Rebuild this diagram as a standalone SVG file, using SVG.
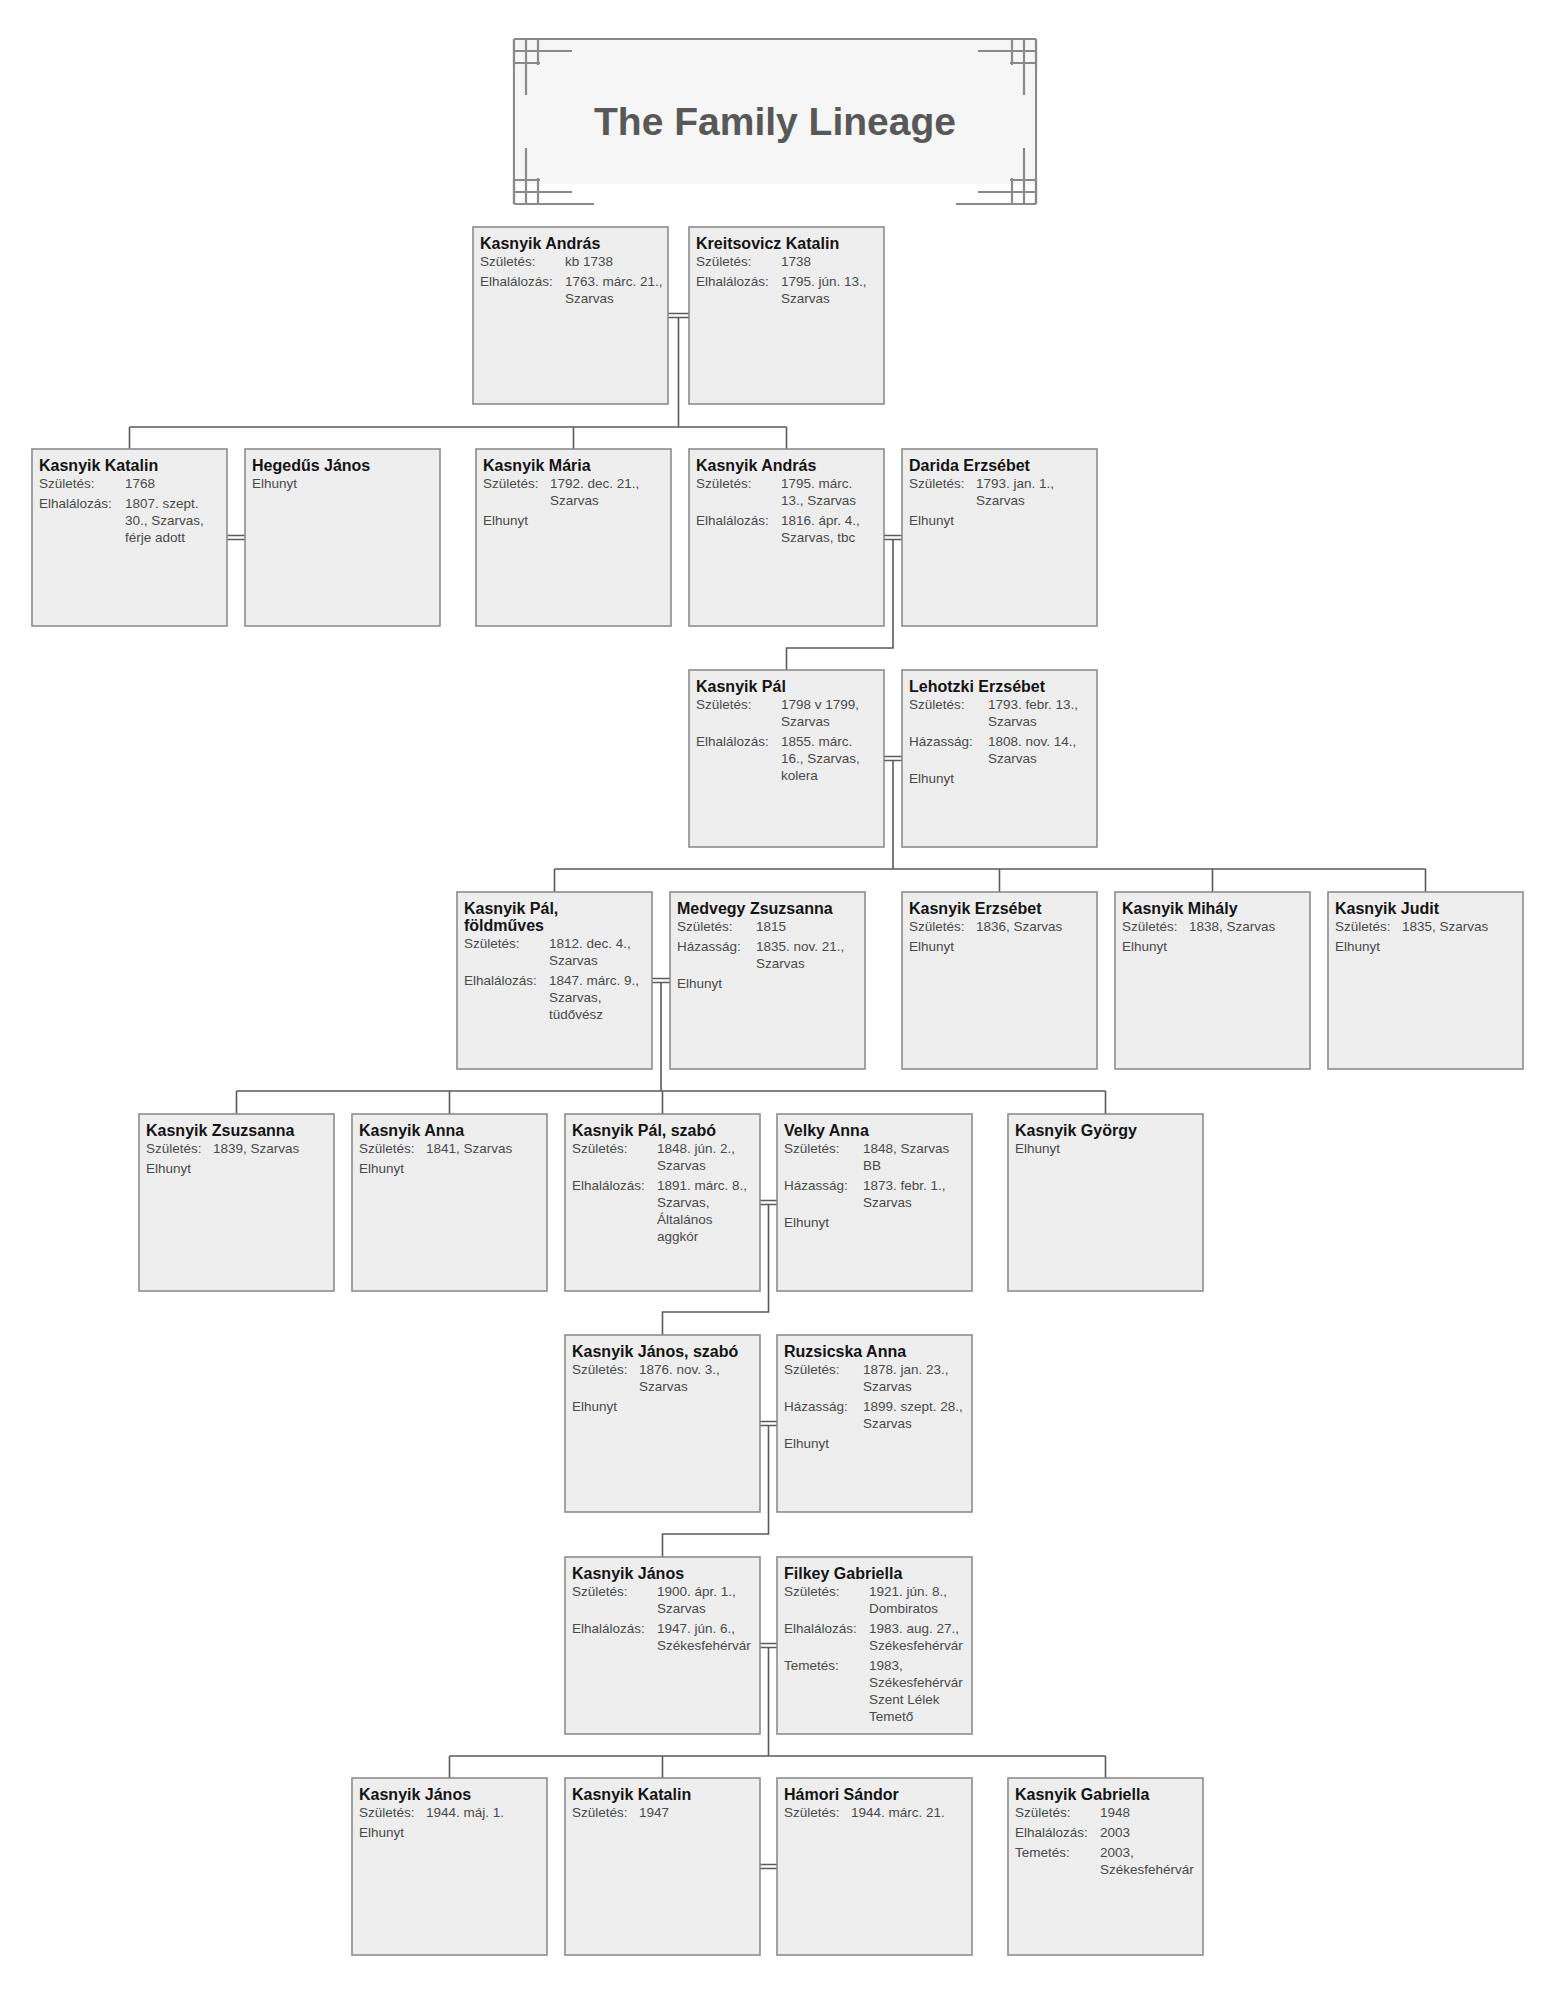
<svg xmlns="http://www.w3.org/2000/svg" width="1551" height="1998" viewBox="0 0 1551 1998">
  <defs>
    <style>
      .box { fill: #eeeeee; stroke: #8c8c8c; stroke-width: 1.6; }
      .nm { font-family: "Liberation Sans", Arial, sans-serif; font-weight: bold; font-size: 16px; fill: #141414; }
      .d { font-family: "Liberation Sans", Arial, sans-serif; font-size: 13.5px; fill: #4a4a4a; }
      .ln { fill: none; stroke: #5a5a5a; stroke-width: 1.6; }
      .fr { fill: none; stroke: #8a8a8a; stroke-width: 2.2; }
      .title { font-family: "Liberation Sans", Arial, sans-serif; font-weight: bold; font-size: 39px; fill: #585858; }
    </style>
    <!-- corner fret ornament, drawn for the top-left corner and mirrored -->
    <g id="fret">
      <path class="fr" d="M0 12 H58 M0 24 H26 M12 0 V56 M24 0 V26 M0 0 H26 V0 M0 0 V26"/>
    </g>
  </defs>

  <rect width="1551" height="1998" fill="#ffffff"/>

  <!-- title banner -->
  <g id="title">
    <rect x="516" y="40" width="518" height="144" fill="#f6f6f6"/>
    <path class="fr" d="M514 39 H1036 M514 39 V204 M1036 39 V204 M514 204 H594 M956 204 H1036"/>
    <use href="#fret" transform="translate(514,39)"/>
    <use href="#fret" transform="translate(1036,39) scale(-1,1)"/>
    <use href="#fret" transform="translate(514,204) scale(1,-1)"/>
    <use href="#fret" transform="translate(1036,204) scale(-1,-1)"/>
    <text class="title" x="775" y="135" text-anchor="middle">The Family Lineage</text>
  </g>

  <!-- connectors: couples (double lines) and parent-to-children lines -->
  <g id="connectors">
    <!-- couples -->
    <path class="ln" d="M668 313.5 H689 M668 317.5 H689"/>
    <path class="ln" d="M227 535.5 H245 M227 539.5 H245"/>
    <path class="ln" d="M884 535.5 H902 M884 539.5 H902"/>
    <path class="ln" d="M884 756.5 H902 M884 760.5 H902"/>
    <path class="ln" d="M652 978.5 H670 M652 982.5 H670"/>
    <path class="ln" d="M760 1200.5 H777 M760 1204.5 H777"/>
    <path class="ln" d="M760 1421.5 H777 M760 1425.5 H777"/>
    <path class="ln" d="M760 1643.5 H777 M760 1647.5 H777"/>
    <path class="ln" d="M760 1864.5 H777 M760 1868.5 H777"/>
    <!-- generation 1 to 2 -->
    <path class="ln" d="M678.5 317.5 V427 M129.5 427 H786.5 M129.5 427 V449 M573.5 427 V449 M786.5 427 V449"/>
    <!-- generation 2 to 3 -->
    <path class="ln" d="M893 539.5 V648 H786.5 V670"/>
    <!-- generation 3 to 4 -->
    <path class="ln" d="M893 760.5 V869 M554.5 869 H1425.5 M554.5 869 V892 M999.5 869 V892 M1212.5 869 V892 M1425.5 869 V892"/>
    <!-- generation 4 to 5 -->
    <path class="ln" d="M661 982.5 V1091 M236.5 1091 H1105.5 M236.5 1091 V1114 M449.5 1091 V1114 M662.5 1091 V1114 M1105.5 1091 V1114"/>
    <!-- generation 5 to 6 -->
    <path class="ln" d="M768.5 1204.5 V1312 H662.5 V1335"/>
    <!-- generation 6 to 7 -->
    <path class="ln" d="M768.5 1425.5 V1534 H662.5 V1557"/>
    <!-- generation 7 to 8 -->
    <path class="ln" d="M768.5 1647.5 V1756 M449.5 1756 H1105.5 M449.5 1756 V1778 M662.5 1756 V1778 M1105.5 1756 V1778"/>
  </g>

  <!-- generation 1 -->
  <g id="kasnyik-andras-1738" transform="translate(473,227)">
    <rect class="box" width="195" height="177"/>
    <text class="nm" x="7" y="22">Kasnyik András</text>
    <text class="d" x="7" y="39">Születés:</text><text class="d" x="92" y="39">kb 1738</text>
    <text class="d" x="7" y="59">Elhalálozás:</text><text class="d" x="92" y="59">1763. márc. 21.,</text>
    <text class="d" x="92" y="76">Szarvas</text>
  </g>
  <g id="kreitsovicz-katalin" transform="translate(689,227)">
    <rect class="box" width="195" height="177"/>
    <text class="nm" x="7" y="22">Kreitsovicz Katalin</text>
    <text class="d" x="7" y="39">Születés:</text><text class="d" x="92" y="39">1738</text>
    <text class="d" x="7" y="59">Elhalálozás:</text><text class="d" x="92" y="59">1795. jún. 13.,</text>
    <text class="d" x="92" y="76">Szarvas</text>
  </g>

  <!-- generation 2 -->
  <g id="kasnyik-katalin-1768" transform="translate(32,449)">
    <rect class="box" width="195" height="177"/>
    <text class="nm" x="7" y="22">Kasnyik Katalin</text>
    <text class="d" x="7" y="39">Születés:</text><text class="d" x="93" y="39">1768</text>
    <text class="d" x="7" y="59">Elhalálozás:</text><text class="d" x="93" y="59">1807. szept.</text>
    <text class="d" x="93" y="76">30., Szarvas,</text>
    <text class="d" x="93" y="93">férje adott</text>
  </g>
  <g id="hegedus-janos" transform="translate(245,449)">
    <rect class="box" width="195" height="177"/>
    <text class="nm" x="7" y="22">Hegedűs János</text>
    <text class="d" x="7" y="39">Elhunyt</text>
  </g>
  <g id="kasnyik-maria" transform="translate(476,449)">
    <rect class="box" width="195" height="177"/>
    <text class="nm" x="7" y="22">Kasnyik Mária</text>
    <text class="d" x="7" y="39">Születés:</text><text class="d" x="74" y="39">1792. dec. 21.,</text>
    <text class="d" x="74" y="56">Szarvas</text>
    <text class="d" x="7" y="76">Elhunyt</text>
  </g>
  <g id="kasnyik-andras-1795" transform="translate(689,449)">
    <rect class="box" width="195" height="177"/>
    <text class="nm" x="7" y="22">Kasnyik András</text>
    <text class="d" x="7" y="39">Születés:</text><text class="d" x="92" y="39">1795. márc.</text>
    <text class="d" x="92" y="56">13., Szarvas</text>
    <text class="d" x="7" y="76">Elhalálozás:</text><text class="d" x="92" y="76">1816. ápr. 4.,</text>
    <text class="d" x="92" y="93">Szarvas, tbc</text>
  </g>
  <g id="darida-erzsebet" transform="translate(902,449)">
    <rect class="box" width="195" height="177"/>
    <text class="nm" x="7" y="22">Darida Erzsébet</text>
    <text class="d" x="7" y="39">Születés:</text><text class="d" x="74" y="39">1793. jan. 1.,</text>
    <text class="d" x="74" y="56">Szarvas</text>
    <text class="d" x="7" y="76">Elhunyt</text>
  </g>

  <!-- generation 3 -->
  <g id="kasnyik-pal-1798" transform="translate(689,670)">
    <rect class="box" width="195" height="177"/>
    <text class="nm" x="7" y="22">Kasnyik Pál</text>
    <text class="d" x="7" y="39">Születés:</text><text class="d" x="92" y="39">1798 v 1799,</text>
    <text class="d" x="92" y="56">Szarvas</text>
    <text class="d" x="7" y="76">Elhalálozás:</text><text class="d" x="92" y="76">1855. márc.</text>
    <text class="d" x="92" y="93">16., Szarvas,</text>
    <text class="d" x="92" y="110">kolera</text>
  </g>
  <g id="lehotzki-erzsebet" transform="translate(902,670)">
    <rect class="box" width="195" height="177"/>
    <text class="nm" x="7" y="22">Lehotzki Erzsébet</text>
    <text class="d" x="7" y="39">Születés:</text><text class="d" x="86" y="39">1793. febr. 13.,</text>
    <text class="d" x="86" y="56">Szarvas</text>
    <text class="d" x="7" y="76">Házasság:</text><text class="d" x="86" y="76">1808. nov. 14.,</text>
    <text class="d" x="86" y="93">Szarvas</text>
    <text class="d" x="7" y="113">Elhunyt</text>
  </g>

  <!-- generation 4 -->
  <g id="kasnyik-pal-1812" transform="translate(457,892)">
    <rect class="box" width="195" height="177"/>
    <text class="nm" x="7" y="22">Kasnyik Pál,</text>
    <text class="nm" x="7" y="39">földműves</text>
    <text class="d" x="7" y="56">Születés:</text><text class="d" x="92" y="56">1812. dec. 4.,</text>
    <text class="d" x="92" y="73">Szarvas</text>
    <text class="d" x="7" y="93">Elhalálozás:</text><text class="d" x="92" y="93">1847. márc. 9.,</text>
    <text class="d" x="92" y="110">Szarvas,</text>
    <text class="d" x="92" y="127">tüdővész</text>
  </g>
  <g id="medvegy-zsuzsanna" transform="translate(670,892)">
    <rect class="box" width="195" height="177"/>
    <text class="nm" x="7" y="22">Medvegy Zsuzsanna</text>
    <text class="d" x="7" y="39">Születés:</text><text class="d" x="86" y="39">1815</text>
    <text class="d" x="7" y="59">Házasság:</text><text class="d" x="86" y="59">1835. nov. 21.,</text>
    <text class="d" x="86" y="76">Szarvas</text>
    <text class="d" x="7" y="96">Elhunyt</text>
  </g>
  <g id="kasnyik-erzsebet" transform="translate(902,892)">
    <rect class="box" width="195" height="177"/>
    <text class="nm" x="7" y="22">Kasnyik Erzsébet</text>
    <text class="d" x="7" y="39">Születés:</text><text class="d" x="74" y="39">1836, Szarvas</text>
    <text class="d" x="7" y="59">Elhunyt</text>
  </g>
  <g id="kasnyik-mihaly" transform="translate(1115,892)">
    <rect class="box" width="195" height="177"/>
    <text class="nm" x="7" y="22">Kasnyik Mihály</text>
    <text class="d" x="7" y="39">Születés:</text><text class="d" x="74" y="39">1838, Szarvas</text>
    <text class="d" x="7" y="59">Elhunyt</text>
  </g>
  <g id="kasnyik-judit" transform="translate(1328,892)">
    <rect class="box" width="195" height="177"/>
    <text class="nm" x="7" y="22">Kasnyik Judit</text>
    <text class="d" x="7" y="39">Születés:</text><text class="d" x="74" y="39">1835, Szarvas</text>
    <text class="d" x="7" y="59">Elhunyt</text>
  </g>

  <!-- generation 5 -->
  <g id="kasnyik-zsuzsanna" transform="translate(139,1114)">
    <rect class="box" width="195" height="177"/>
    <text class="nm" x="7" y="22">Kasnyik Zsuzsanna</text>
    <text class="d" x="7" y="39">Születés:</text><text class="d" x="74" y="39">1839, Szarvas</text>
    <text class="d" x="7" y="59">Elhunyt</text>
  </g>
  <g id="kasnyik-anna" transform="translate(352,1114)">
    <rect class="box" width="195" height="177"/>
    <text class="nm" x="7" y="22">Kasnyik Anna</text>
    <text class="d" x="7" y="39">Születés:</text><text class="d" x="74" y="39">1841, Szarvas</text>
    <text class="d" x="7" y="59">Elhunyt</text>
  </g>
  <g id="kasnyik-pal-szabo" transform="translate(565,1114)">
    <rect class="box" width="195" height="177"/>
    <text class="nm" x="7" y="22">Kasnyik Pál, szabó</text>
    <text class="d" x="7" y="39">Születés:</text><text class="d" x="92" y="39">1848. jún. 2.,</text>
    <text class="d" x="92" y="56">Szarvas</text>
    <text class="d" x="7" y="76">Elhalálozás:</text><text class="d" x="92" y="76">1891. márc. 8.,</text>
    <text class="d" x="92" y="93">Szarvas,</text>
    <text class="d" x="92" y="110">Általános</text>
    <text class="d" x="92" y="127">aggkór</text>
  </g>
  <g id="velky-anna" transform="translate(777,1114)">
    <rect class="box" width="195" height="177"/>
    <text class="nm" x="7" y="22">Velky Anna</text>
    <text class="d" x="7" y="39">Születés:</text><text class="d" x="86" y="39">1848, Szarvas</text>
    <text class="d" x="86" y="56">BB</text>
    <text class="d" x="7" y="76">Házasság:</text><text class="d" x="86" y="76">1873. febr. 1.,</text>
    <text class="d" x="86" y="93">Szarvas</text>
    <text class="d" x="7" y="113">Elhunyt</text>
  </g>
  <g id="kasnyik-gyorgy" transform="translate(1008,1114)">
    <rect class="box" width="195" height="177"/>
    <text class="nm" x="7" y="22">Kasnyik György</text>
    <text class="d" x="7" y="39">Elhunyt</text>
  </g>

  <!-- generation 6 -->
  <g id="kasnyik-janos-szabo" transform="translate(565,1335)">
    <rect class="box" width="195" height="177"/>
    <text class="nm" x="7" y="22">Kasnyik János, szabó</text>
    <text class="d" x="7" y="39">Születés:</text><text class="d" x="74" y="39">1876. nov. 3.,</text>
    <text class="d" x="74" y="56">Szarvas</text>
    <text class="d" x="7" y="76">Elhunyt</text>
  </g>
  <g id="ruzsicska-anna" transform="translate(777,1335)">
    <rect class="box" width="195" height="177"/>
    <text class="nm" x="7" y="22">Ruzsicska Anna</text>
    <text class="d" x="7" y="39">Születés:</text><text class="d" x="86" y="39">1878. jan. 23.,</text>
    <text class="d" x="86" y="56">Szarvas</text>
    <text class="d" x="7" y="76">Házasság:</text><text class="d" x="86" y="76">1899. szept. 28.,</text>
    <text class="d" x="86" y="93">Szarvas</text>
    <text class="d" x="7" y="113">Elhunyt</text>
  </g>

  <!-- generation 7 -->
  <g id="kasnyik-janos-1900" transform="translate(565,1557)">
    <rect class="box" width="195" height="177"/>
    <text class="nm" x="7" y="22">Kasnyik János</text>
    <text class="d" x="7" y="39">Születés:</text><text class="d" x="92" y="39">1900. ápr. 1.,</text>
    <text class="d" x="92" y="56">Szarvas</text>
    <text class="d" x="7" y="76">Elhalálozás:</text><text class="d" x="92" y="76">1947. jún. 6.,</text>
    <text class="d" x="92" y="93">Székesfehérvár</text>
  </g>
  <g id="filkey-gabriella" transform="translate(777,1557)">
    <rect class="box" width="195" height="177"/>
    <text class="nm" x="7" y="22">Filkey Gabriella</text>
    <text class="d" x="7" y="39">Születés:</text><text class="d" x="92" y="39">1921. jún. 8.,</text>
    <text class="d" x="92" y="56">Dombiratos</text>
    <text class="d" x="7" y="76">Elhalálozás:</text><text class="d" x="92" y="76">1983. aug. 27.,</text>
    <text class="d" x="92" y="93">Székesfehérvár</text>
    <text class="d" x="7" y="113">Temetés:</text><text class="d" x="92" y="113">1983,</text>
    <text class="d" x="92" y="130">Székesfehérvár</text>
    <text class="d" x="92" y="147">Szent Lélek</text>
    <text class="d" x="92" y="164">Temető</text>
  </g>

  <!-- generation 8 -->
  <g id="kasnyik-janos-1944" transform="translate(352,1778)">
    <rect class="box" width="195" height="177"/>
    <text class="nm" x="7" y="22">Kasnyik János</text>
    <text class="d" x="7" y="39">Születés:</text><text class="d" x="74" y="39">1944. máj. 1.</text>
    <text class="d" x="7" y="59">Elhunyt</text>
  </g>
  <g id="kasnyik-katalin-1947" transform="translate(565,1778)">
    <rect class="box" width="195" height="177"/>
    <text class="nm" x="7" y="22">Kasnyik Katalin</text>
    <text class="d" x="7" y="39">Születés:</text><text class="d" x="74" y="39">1947</text>
  </g>
  <g id="hamori-sandor" transform="translate(777,1778)">
    <rect class="box" width="195" height="177"/>
    <text class="nm" x="7" y="22">Hámori Sándor</text>
    <text class="d" x="7" y="39">Születés:</text><text class="d" x="74" y="39">1944. márc. 21.</text>
  </g>
  <g id="kasnyik-gabriella" transform="translate(1008,1778)">
    <rect class="box" width="195" height="177"/>
    <text class="nm" x="7" y="22">Kasnyik Gabriella</text>
    <text class="d" x="7" y="39">Születés:</text><text class="d" x="92" y="39">1948</text>
    <text class="d" x="7" y="59">Elhalálozás:</text><text class="d" x="92" y="59">2003</text>
    <text class="d" x="7" y="79">Temetés:</text><text class="d" x="92" y="79">2003,</text>
    <text class="d" x="92" y="96">Székesfehérvár</text>
  </g>
</svg>
